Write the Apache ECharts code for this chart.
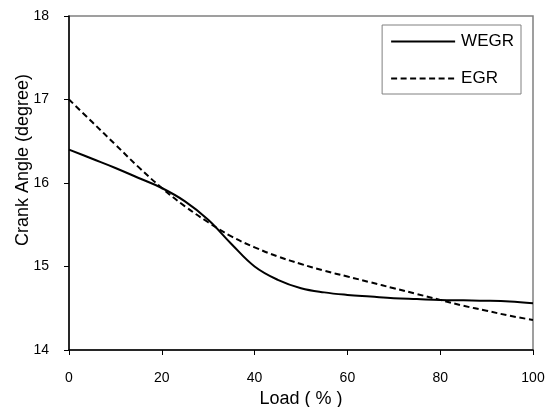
<!DOCTYPE html>
<html>
<head>
<meta charset="utf-8">
<script src="https://cdn.jsdelivr.net/npm/echarts@6/dist/echarts.min.js"></script>
<style>
html,body{margin:0;padding:0;background:#fff;}
#c{width:553px;height:407px;}
</style>
</head>
<body>
<div id="c"></div>
<script>
var loads = [0,5,10,15,20,25,30,35,40,45,50,55,60,65,70,75,80,85,90,95,100];
var wegr = [16.40,16.29,16.18,16.06,15.94,15.78,15.56,15.27,15.00,14.84,14.74,14.69,14.66,14.64,14.62,14.61,14.60,14.595,14.59,14.58,14.56];
var egr  = [17.00,16.73,16.46,16.19,15.94,15.72,15.53,15.36,15.23,15.12,15.03,14.95,14.88,14.81,14.74,14.67,14.60,14.53,14.47,14.41,14.36];
var xTicks = [0,20,40,60,80,100];
var yTicks = [14,15,16,17,18];

function pairs(xs, ys){ return xs.map(function(x,i){ return [x, ys[i]]; }); }

var font = '"Liberation Sans", Arial, sans-serif';
var chart = echarts.init(document.getElementById('c'), null, {renderer:'canvas'});
chart.setOption({
  animation:false,
  backgroundColor:'#fff',
  grid:{left:69, right:20, top:16, bottom:57, show:true, borderColor:'#808080', borderWidth:1.5,
        backgroundColor:'transparent', containLabel:false, outerBoundsMode:'none'},
  legend:{
    orient:'vertical', right:32, top:25,
    padding:[8,7,7,8],
    borderColor:'#808080', borderWidth:1,
    backgroundColor:'#fff',
    itemWidth:64, itemHeight:14, itemGap:20,
    itemStyle:{color:'transparent', borderColor:'transparent', borderWidth:0, opacity:0},
    textStyle:{fontFamily:font, fontSize:17, color:'#000', padding:[0,0,0,1]},
    data:['WEGR','EGR']
  },
  xAxis:{
    type:'value', min:0, max:100, interval:20,
    name:'Load ( % )', nameLocation:'middle', nameGap:40, nameMoveOverlap:false,
    nameTextStyle:{fontFamily:font, fontSize:18, color:'#000'},
    axisLine:{show:true, onZero:false, lineStyle:{color:'#000', width:1.5}},
    axisTick:{show:true, inside:false, length:5, lineStyle:{color:'#000'}},
    axisLabel:{fontFamily:font, fontSize:14, color:'#000', margin:21,
      formatter:function(v){ return xTicks.indexOf(v)>=0 ? String(v) : ''; }},
    splitLine:{show:false}
  },
  yAxis:{
    type:'value', min:14, max:18, interval:1,
    name:'Crank Angle (degree)', nameLocation:'middle', nameGap:37, nameMoveOverlap:false,
    nameTextStyle:{fontFamily:font, fontSize:18, color:'#000', padding:[0,0,0,46]},
    axisLine:{show:true, onZero:false, lineStyle:{color:'#000', width:1.5}},
    axisTick:{show:true, inside:false, length:5, lineStyle:{color:'#000'}},
    axisLabel:{fontFamily:font, fontSize:14, color:'#000', margin:20,
      formatter:function(v){ return yTicks.indexOf(v)>=0 ? String(v) : ''; }},
    splitLine:{show:false}
  },
  series:[
    {name:'WEGR', type:'line', data:pairs(loads,wegr), smooth:0.4, symbol:'none', showSymbol:false,
      lineStyle:{color:'#000', width:2, type:'solid'}, itemStyle:{color:'#000'}},
    {name:'EGR', type:'line', data:pairs(loads,egr), smooth:0.4, symbol:'none', showSymbol:false,
      lineStyle:{color:'#000', width:2, type:[6,3.5]}, itemStyle:{color:'#000'}}
  ]
});
</script>
</body>
</html>
